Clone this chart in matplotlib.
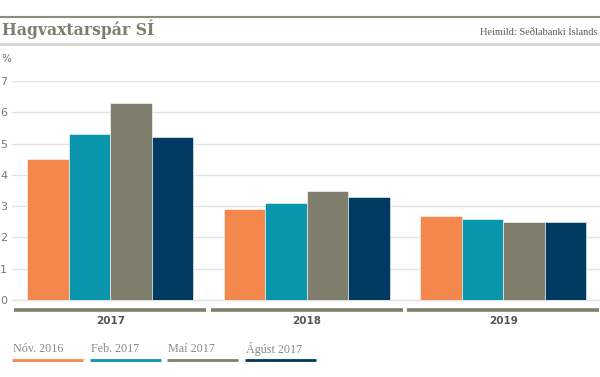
import matplotlib
matplotlib.use("Agg")
import matplotlib.pyplot as plt
import numpy as np

categories = ["2017", "2018", "2019"]
series_names = ["Nóv. 2016", "Feb. 2017", "Maí 2017", "Ágúst 2017"]
nov_2016 = [4.5, 2.9, 2.7]
feb_2017 = [5.3, 3.1, 2.6]
mai_2017 = [6.3, 3.5, 2.5]
agust_2017 = [5.2, 3.3, 2.5]
yticks = [0, 1, 2, 3, 4, 5, 6, 7]
colors = ["#F4874B", "#0996AC", "#807F6D", "#003A60"]

series = [nov_2016, feb_2017, mai_2017, agust_2017]

W, H = 600, 377
fig = plt.figure(figsize=(6, 3.77), dpi=100)

def fx(px):
    return px / W

def fy(py):
    return 1 - py / H

ax = fig.add_axes([fx(12), fy(300), fx(601.5) - fx(12), fy(81) - fy(300)])
ax.set_xlim(-0.5, 2.5)
ax.set_ylim(0, 7)

x = np.arange(len(categories))
bw = 0.211
n = len(series)
for i, (vals, c) in enumerate(zip(series, colors)):
    ax.bar(x + (i - (n - 1) / 2) * bw, vals, width=bw, color=c,
           edgecolor="white", linewidth=0.4, zorder=3)

ax.set_yticks(yticks)
ax.set_yticklabels([str(t) for t in yticks])
ax.grid(axis="y", color="#e3e3e3", linewidth=1.0, zorder=0)
ax.tick_params(axis="y", length=0, pad=3.5, labelsize=8, labelcolor="#777777")
ax.tick_params(axis="x", length=0, labelbottom=False)
for s in ["top", "right", "left"]:
    ax.spines[s].set_visible(False)
ax.spines["bottom"].set_color("#e3e3e3")
ax.spines["bottom"].set_linewidth(1.0)

# category underline bars and labels
unit = (300 - 81) / 7.0
for i, cat in enumerate(categories):
    ax.plot([i - 0.5 + 0.012, i + 0.5 - 0.012], [-9.5 / unit] * 2,
            color="#807F6D", linewidth=2.6, solid_capstyle="butt",
            clip_on=False, zorder=2)
    ax.text(i, -21 / unit, cat, ha="center", va="center", fontsize=7.5,
            fontweight="bold", color="#555555", clip_on=False)

# header rules
fig.add_artist(plt.Line2D([0, 1], [fy(16.5), fy(16.5)], color="#8c8c7c", linewidth=1.5))
fig.add_artist(plt.Line2D([0, 1], [fy(43.5), fy(43.5)], color="#d4d4cc", linewidth=1.8))

fig.text(fx(2), fy(35), "Hagvaxtarspár SÍ", ha="left", va="baseline",
         fontsize=12.5, fontweight="bold", family="DejaVu Serif",
         fontstretch="condensed", color="#7f7e6b")
fig.text(fx(598), fy(35), "Heimild: Seðlabanki Íslands", ha="right", va="baseline",
         fontsize=7.5, family="Liberation Serif", color="#5a5a52")
fig.text(fx(1), fy(59), "%", ha="left", va="center", fontsize=7.5, color="#777777")

# legend
leg_x = [12, 90, 167, 245]
leg_w = 71
for lx, name, c in zip(leg_x, series_names, colors):
    fig.text(fx(lx + 1), fy(352.5), name, ha="left", va="baseline", fontsize=8.7,
             family="Liberation Serif", color="#8a8a80")
    fig.add_artist(plt.Line2D([fx(lx), fx(lx + leg_w)], [fy(360), fy(360)],
                              color=c, linewidth=2.0, solid_capstyle="butt"))

fig.savefig("out.png", dpi=100)
